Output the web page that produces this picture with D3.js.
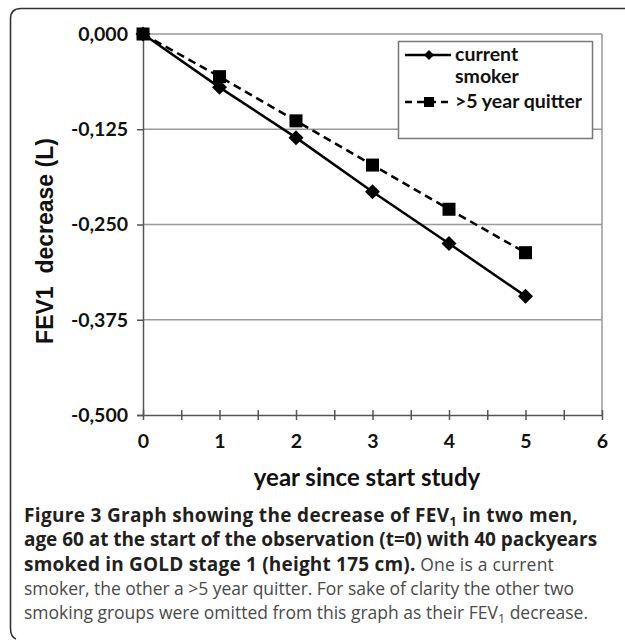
<!DOCTYPE html>
<html>
<head>
<meta charset="utf-8">
<script src="https://cdn.jsdelivr.net/npm/d3@7"></script>
<style>
  body { margin: 0; background: #fff; }
  svg { display: block; }
</style>
</head>
<body>
<div id="chart"></div>
<script>
// data
var years = [0, 1, 2, 3, 4, 5];
var currentSmoker = [0, -0.070, -0.136, -0.207, -0.275, -0.344];
var quitter = [0, -0.056, -0.114, -0.172, -0.230, -0.287];
var seriesNames = ['current', 'smoker', '>5 year quitter'];
var yTicks = [0, -0.125, -0.25, -0.375, -0.5];
var xTicks = [0, 1, 2, 3, 4, 5, 6];

var svgWidth = 625,
  svgHeight = 640;

var svg = d3.select('#chart')
  .append('svg')
  .attr('width', svgWidth)
  .attr('height', svgHeight);

// outer rounded frame (open on the right and bottom)
svg.append('path')
  .attr('d', 'M 630 8.5 L 21 8.5 Q 10.5 8.5 10.5 19 L 10.5 628 Q 10.5 637 16 639')
  .attr('fill', 'none')
  .attr('stroke', '#333')
  .attr('stroke-width', 1.6);

var xScale = d3.scaleLinear().domain([0, 6]).range([143, 602]);
var yScale = d3.scaleLinear().domain([-0.5, 0]).range([415, 34]);

var locale = d3.formatLocale({ decimal: ',', thousands: '.', grouping: [3], currency: ['', ''], minus: '-' });
var fmt = locale.format('.3f');

var tickFont = 'Lato, "Open Sans", sans-serif';

// gridlines
svg.append('g').selectAll('line')
  .data(yTicks.filter(d => d !== -0.5))
  .enter().append('line')
  .attr('x1', xScale(0)).attr('x2', xScale(6))
  .attr('y1', d => yScale(d)).attr('y2', d => yScale(d))
  .attr('stroke', '#999').attr('stroke-width', 1.5);

// right border of plot
svg.append('line')
  .attr('x1', xScale(6)).attr('x2', xScale(6))
  .attr('y1', yScale(0)).attr('y2', yScale(-0.5))
  .attr('stroke', '#999').attr('stroke-width', 1.5);

// y axis
var yAxis = svg.append('g')
  .attr('transform', `translate(${xScale(0)},0)`)
  .call(d3.axisLeft(yScale).tickValues(yTicks).tickFormat(fmt).tickSize(6).tickPadding(9));
yAxis.select('.domain').attr('stroke', '#555').attr('stroke-width', 1.5);
yAxis.selectAll('.tick line').attr('stroke', '#555').attr('stroke-width', 1.5);
yAxis.selectAll('text')
  .attr('font-family', tickFont).attr('font-weight', 'bold')
  .attr('font-size', 19.5).attr('fill', '#111');

// x axis: minor ticks every half year, labels at whole years
var xAxis = svg.append('g')
  .attr('transform', `translate(0,${yScale(-0.5)})`)
  .call(d3.axisBottom(xScale).tickValues(d3.range(0, 6.01, 0.5)).tickSizeInner(5).tickSizeOuter(0)
    .tickFormat(d => Number.isInteger(d) ? d : ''));
xAxis.select('.domain').attr('stroke', '#555').attr('stroke-width', 1.5);
xAxis.selectAll('.tick line').attr('y1', -5).attr('y2', 5).attr('stroke', '#555').attr('stroke-width', 1.5);
xAxis.selectAll('text')
  .attr('y', 19)
  .attr('font-family', tickFont).attr('font-weight', 'bold')
  .attr('font-size', 19.5).attr('fill', '#111');

// axis titles
svg.append('text')
  .attr('x', 367).attr('y', 486)
  .attr('text-anchor', 'middle')
  .attr('font-family', tickFont).attr('font-weight', 'bold')
  .attr('font-size', 24).attr('fill', '#111')
  .text('year since start study');

svg.append('text')
  .attr('transform', 'translate(53,241)rotate(-90)')
  .attr('text-anchor', 'middle')
  .attr('font-family', '"Liberation Sans", Arial, sans-serif').attr('font-weight', 'bold')
  .attr('font-size', 23).attr('fill', '#111')
  .attr('xml:space', 'preserve')
  .text('FEV1  decrease (L)');

// lines
var line = d3.line()
  .x((d, i) => xScale(years[i]))
  .y(d => yScale(d));

svg.append('path')
  .datum(quitter)
  .attr('d', line)
  .attr('fill', 'none').attr('stroke', '#000')
  .attr('stroke-width', 2.5).attr('stroke-dasharray', '8,5');

svg.append('path')
  .datum(currentSmoker)
  .attr('d', line)
  .attr('fill', 'none').attr('stroke', '#000')
  .attr('stroke-width', 2.5);

var diamond = s => `M0,${-s} L${s},0 L0,${s} L${-s},0 Z`;

svg.append('g').selectAll('rect')
  .data(quitter)
  .enter().append('rect')
  .attr('x', (d, i) => xScale(years[i]) - 6.5)
  .attr('y', d => yScale(d) - 6.5)
  .attr('width', 13).attr('height', 13)
  .attr('fill', '#000');

svg.append('g').selectAll('path')
  .data(currentSmoker)
  .enter().append('path')
  .attr('transform', (d, i) => `translate(${xScale(years[i])},${yScale(d)})`)
  .attr('d', diamond(7.5))
  .attr('fill', '#000');

// legend
var legend = svg.append('g');
legend.append('rect')
  .attr('x', 398.5).attr('y', 41.5)
  .attr('width', 194).attr('height', 97)
  .attr('fill', '#fff').attr('stroke', '#777').attr('stroke-width', 1.5);

legend.append('line')
  .attr('x1', 405).attr('x2', 451).attr('y1', 55).attr('y2', 55)
  .attr('stroke', '#000').attr('stroke-width', 2.5);
legend.append('path')
  .attr('transform', 'translate(429,55)')
  .attr('d', diamond(5))
  .attr('fill', '#000');

legend.append('line')
  .attr('x1', 405).attr('x2', 453).attr('y1', 102).attr('y2', 102)
  .attr('stroke', '#000').attr('stroke-width', 2.5).attr('stroke-dasharray', '7,5');
legend.append('rect')
  .attr('x', 424).attr('y', 97).attr('width', 10).attr('height', 10)
  .attr('fill', '#000');

legend.selectAll('text')
  .data(seriesNames)
  .enter().append('text')
  .attr('x', 455)
  .attr('y', (d, i) => [61, 83, 108][i])
  .attr('font-family', tickFont).attr('font-weight', 'bold')
  .attr('font-size', 19.5).attr('fill', '#111')
  .text(d => d);

// caption, each line spaced out to the width it has in the figure
var capFont = '"Open Sans", "Noto Sans", sans-serif';
var caption = svg.append('g')
  .attr('font-family', capFont);

function addLine(y, endX, parts) {
  var t = caption.append('text').attr('x', 24).attr('y', y);
  var n = 0;
  parts.forEach(p => {
    var s = t.append('tspan').text(p.t)
      .attr('font-weight', p.b ? 'bold' : 'normal')
      .attr('font-size', p.b ? 19 : 17.5)
      .attr('fill', p.b ? '#231f20' : '#4a4a4a');
    if (p.sub) s.attr('font-size', 12.5).attr('dy', 4);
    if (p.up) s.attr('dy', -4);
    n += p.t.length;
  });
  var w = t.node().getComputedTextLength();
  t.attr('letter-spacing', ((endX - 24 - w) / n).toFixed(3));
}

addLine(522, 578, [{ t: 'Figure 3 Graph showing the decrease of FEV', b: 1 }, { t: '1', b: 1, sub: 1 }, { t: ' in two men,', b: 1, up: 1 }]);
addLine(546, 597, [{ t: 'age 60 at the start of the observation (t=0) with 40 packyears', b: 1 }]);
addLine(571, 554, [{ t: 'smoked in GOLD stage 1 (height 175 cm).', b: 1 }, { t: ' One is a current', b: 0 }]);
addLine(595, 574, [{ t: 'smoker, the other a >5 year quitter. For sake of clarity the other two', b: 0 }]);
addLine(619, 588, [{ t: 'smoking groups were omitted from this graph as their FEV', b: 0 }, { t: '1', b: 0, sub: 1 }, { t: ' decrease.', b: 0, up: 1 }]);
</script>
</body>
</html>
